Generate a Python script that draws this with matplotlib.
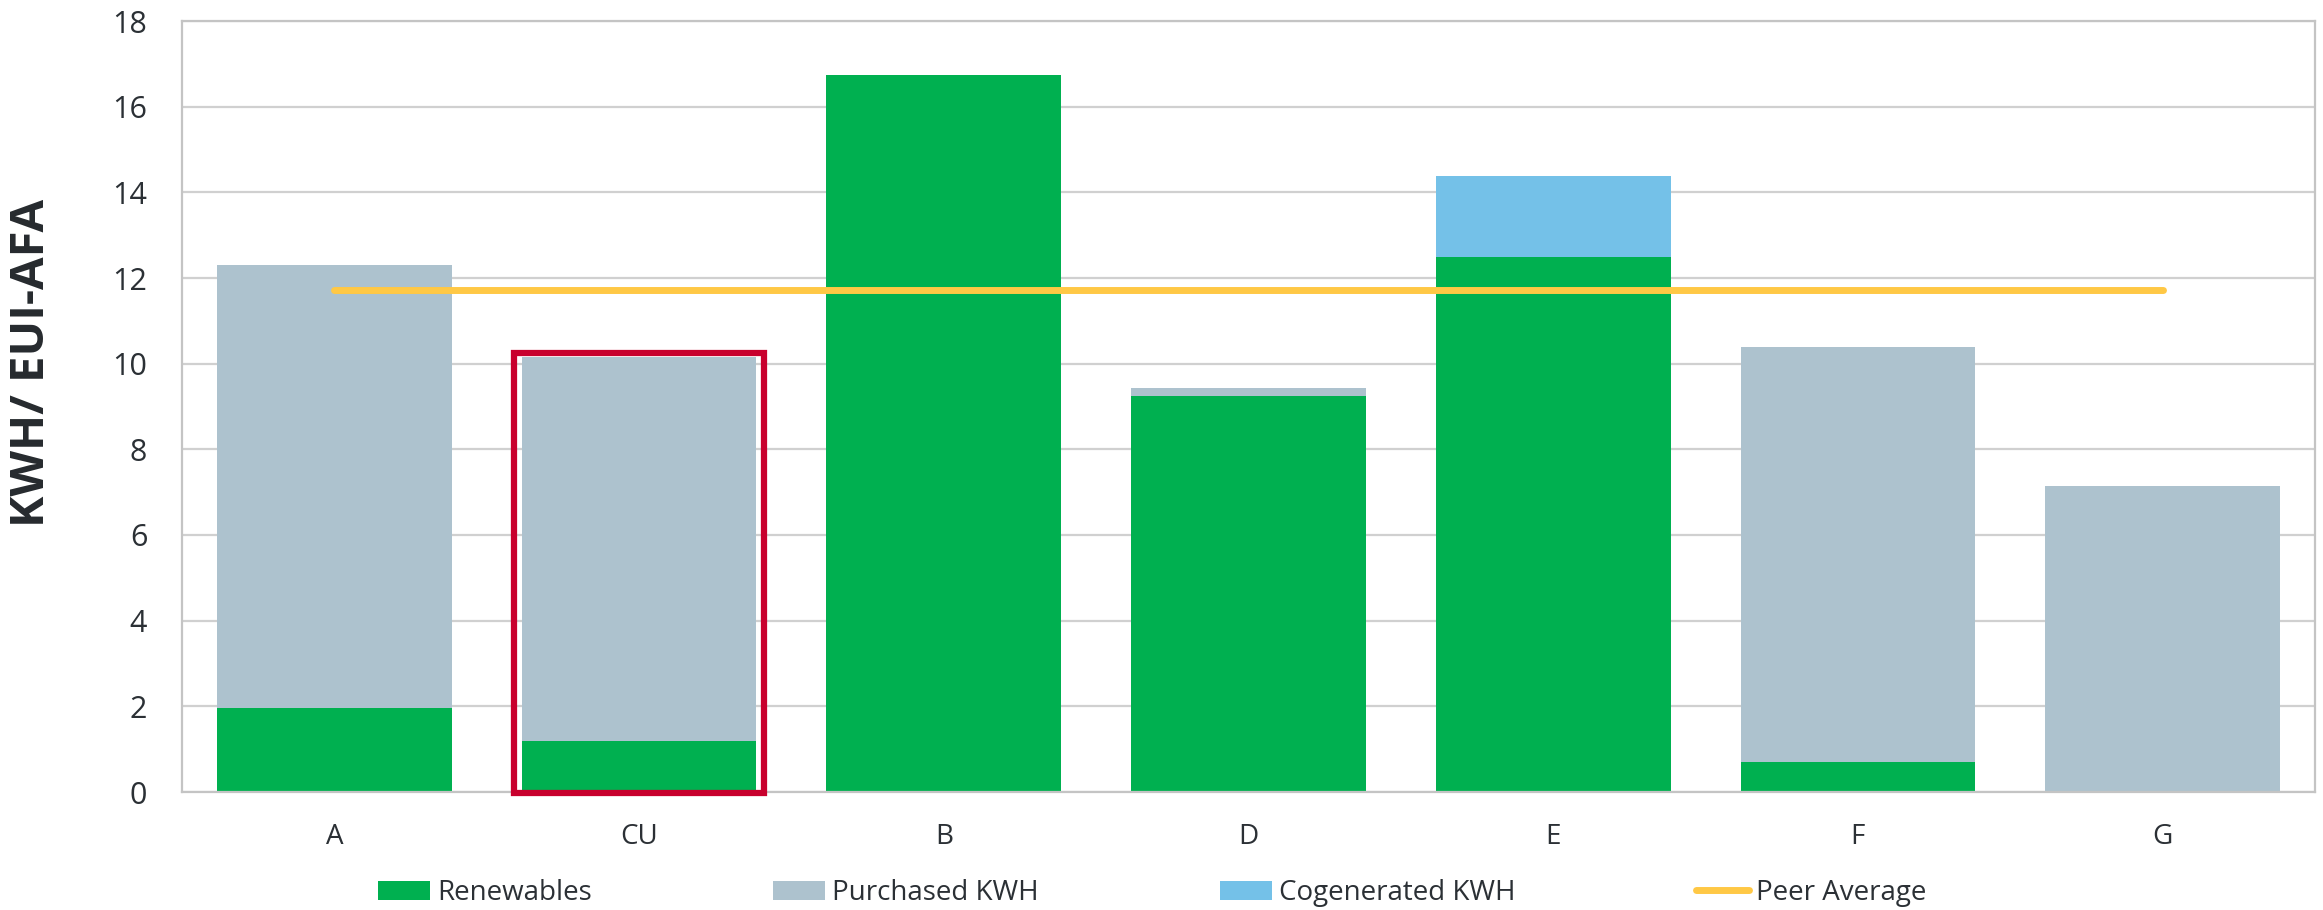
import matplotlib.pyplot as plt
import numpy as np
from matplotlib.patches import Rectangle

plt.rcParams['font.family'] = ['Open Sans', 'DejaVu Sans']

# values per site, KWH / EUI-AFA
sites = ['A', 'CU', 'B', 'D', 'E', 'F', 'G']
renewables = [1.97, 1.18, 16.75, 9.25, 12.48, 0.70, 0.0]
purchased = [10.34, 8.97, 0.0, 0.18, 0.0, 9.68, 7.14]
cogenerated = [0.0, 0.0, 0.0, 0.0, 1.89, 0.0, 0.0]
peer_average = [11.73] * 7
highlight = 'CU'

text_col = '#2b3035'
grid_col = '#d0d0d0'

fig = plt.figure(figsize=(23.23, 9.10), dpi=100)
ax = fig.add_axes([182 / 2323, 1 - 792 / 910, (2315 - 182) / 2323, (792 - 21) / 910])

x = np.arange(len(sites))
w = 0.77
ren = np.array(renewables)
pur = np.array(purchased)
cog = np.array(cogenerated)

b1 = ax.bar(x, ren, w, color='#00b050', label='Renewables', zorder=2)
b2 = ax.bar(x, pur, w, bottom=ren, color='#adc2ce', label='Purchased KWH', zorder=2)
b3 = ax.bar(x, cog, w, bottom=ren + pur, color='#74c1e8', label='Cogenerated KWH', zorder=2)
ln, = ax.plot(x, peer_average, color='#ffc845', lw=5, solid_capstyle='round',
              label='Peer Average', zorder=3)

# red frame around the highlighted site
i = sites.index(highlight)
top = ren[i] + pur[i] + cog[i]
ax.add_patch(Rectangle((i - 0.41, -0.02), 0.82, top + 0.13, fill=False,
                       edgecolor='#c8002d', lw=4.5, zorder=4, clip_on=False))

ax.set_xlim(-0.5, 6.5)
ax.set_ylim(0, 18)
ax.set_yticks(range(0, 19, 2))
ax.set_xticks(x)
ax.set_xticklabels(sites)
ax.tick_params(axis='y', length=0, pad=25, labelsize=22, labelcolor=text_col)
ax.tick_params(axis='x', length=0, pad=22, labelsize=20, labelcolor=text_col)
ax.grid(axis='y', color=grid_col, lw=1.6, zorder=0)
ax.set_axisbelow(True)
for s in ax.spines.values():
    s.set_color('#c4c4c4')
    s.set_linewidth(1.6)

fig.text(32 / 2323, 1 - 363 / 910, 'KWH/ EUI-AFA', rotation=90, ha='center', va='center',
         fontsize=34, fontweight='bold', color='#262a2e')

fig.legend(handles=[b1, b2, b3, ln], loc='center', bbox_to_anchor=(1152 / 2323, 1 - 893 / 910),
           ncol=4, frameon=False, fontsize=20, labelcolor=text_col, handlelength=1.9,
           handleheight=0.65, handletextpad=0.25, columnspacing=6.5, borderpad=0)

fig.savefig('out.png', dpi=100)
